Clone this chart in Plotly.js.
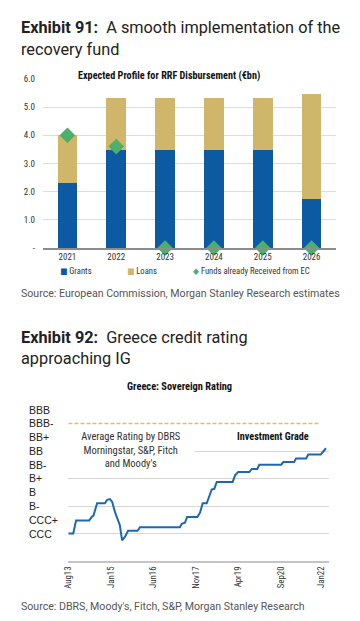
<!DOCTYPE html>
<html>
<head>
<meta charset="utf-8">
<script src="https://cdn.plot.ly/plotly-3.0.1.min.js"></script>
<style>
  html, body { margin: 0; padding: 0; background: #fff; }
  #chart { width: 360px; height: 621px; }
</style>
</head>
<body>
<div id="chart"></div>
<script>
// ---------- Exhibit 91 data ----------
const years = ['2021', '2022', '2023', '2024', '2025', '2026'];
const grants = [2.3, 3.47, 3.47, 3.47, 3.47, 1.74];
const loans = [1.7, 1.85, 1.85, 1.85, 1.85, 3.72];
const fundsReceived = [4.0, 3.6, 0, 0, 0, 0];
const rrfTickVals = [0, 1, 2, 3, 4, 5, 6];
const rrfTickText = ['-', '1.0', '2.0', '3.0', '4.0', '5.0', '6.0'];
const seriesNames = ['Grants', 'Loans', 'Funds already Received from EC'];

// ---------- Exhibit 92 data ----------
const ratingDates = [
  '2013-08-01', '2013-09-28', '2013-11-01', '2014-04-10', '2014-05-10', '2014-06-01',
  '2014-07-15', '2014-10-18', '2014-11-15', '2014-12-18', '2015-01-15', '2015-02-18',
  '2015-04-18', '2015-05-15', '2015-06-18', '2015-07-28', '2015-11-20', '2015-12-18',
  '2017-04-18', '2017-05-10', '2017-06-18', '2017-07-15', '2017-11-15', '2017-12-18',
  '2018-01-20', '2018-03-10', '2018-05-10', '2018-06-10', '2018-07-10', '2019-01-20',
  '2019-02-18', '2019-03-28', '2019-08-10', '2019-09-10', '2019-11-15', '2019-12-10',
  '2020-09-01', '2020-09-28', '2021-02-06', '2021-03-01', '2021-07-01', '2021-07-28',
  '2021-12-28', '2022-02-28'
];
const ratingValues = [
  1.0, 1.0, 1.95, 1.95, 2.2, 2.3,
  3.2, 3.2, 3.45, 3.5, 3.3, 2.55,
  1.6, 0.5, 0.75, 1.2, 1.2, 1.45,
  1.45, 1.7, 1.78, 2.2, 2.2, 2.5,
  3.2, 3.2, 4.2, 4.25, 4.75, 4.75,
  5.23, 5.47, 5.47, 5.7, 5.7, 6.0,
  6.0, 6.2, 6.2, 6.45, 6.45, 6.75,
  6.75, 7.2
];
const ratingLabels = ['CCC', 'CCC+', 'B-', 'B', 'B+', 'BB-', 'BB', 'BB+', 'BBB-', 'BBB'];
const ratingLevels = [1, 2, 3, 4, 5, 6, 7, 8, 9, 10];
const ratingGridVals = [-1, 1, 3, 5, 7, 11];
const igDates = ['2013-08-01', '2021-12-20'];
const igLevel = [9, 9];
const dateTickVals = ['2013-08-01', '2015-01-01', '2016-06-01', '2017-11-01', '2019-04-01', '2020-09-01', '2022-01-01'];
const dateTickText = ['Aug13', 'Jan15', 'Jun16', 'Nov17', 'Apr19', 'Sep20', 'Jan22'];

// ---------- styling ----------
const BLUE = '#0b5aa2';
const TAN = '#cfb66b';
const GREEN = '#4caf6a';
const LINEBLUE = '#1c68b2';
const COND = 'Roboto Condensed, Liberation Sans Narrow, DejaVu Sans Condensed, Roboto, sans-serif';
const ROBOTO = 'Roboto, Noto Sans, sans-serif';
const W = 360, H = 621;
const px = v => v / W;
const py = v => 1 - v / H;

const traces = [
  { type: 'bar', x: years, y: grants, name: seriesNames[0], marker: { color: BLUE },
    width: 0.4, xaxis: 'x', yaxis: 'y', showlegend: false, hoverinfo: 'skip' },
  { type: 'bar', x: years, y: loans, name: seriesNames[1], marker: { color: TAN },
    width: 0.4, xaxis: 'x', yaxis: 'y', showlegend: false, hoverinfo: 'skip' },
  { type: 'scatter', mode: 'markers', x: years, y: fundsReceived, name: seriesNames[2],
    marker: { symbol: 'diamond', size: 12, color: GREEN }, cliponaxis: false,
    xaxis: 'x', yaxis: 'y', showlegend: false, hoverinfo: 'skip' },
  { type: 'scatter', mode: 'lines', x: igDates, y: igLevel, name: 'Investment Grade',
    line: { color: '#d9bf73', width: 1.6, dash: '4px,2px' },
    xaxis: 'x2', yaxis: 'y2', showlegend: false, hoverinfo: 'skip' },
  { type: 'scatter', mode: 'lines', x: ratingDates, y: ratingValues, name: 'Average rating',
    line: { color: LINEBLUE, width: 2 },
    xaxis: 'x2', yaxis: 'y2', showlegend: false, hoverinfo: 'skip' }
];

const annotations = [
  // headings
  { text: '<b>Exhibit 91:</b>  A smooth implementation of the', x: px(19), y: py(28) },
  { text: 'recovery fund', x: px(19), y: py(49) },
  { text: '<b>Exhibit 92:</b>  Greece credit rating', x: px(19), y: py(337) },
  { text: 'approaching IG', x: px(19), y: py(358) }
].map(a => Object.assign({ xref: 'paper', yref: 'paper', xanchor: 'left', yanchor: 'middle',
  showarrow: false, font: { family: ROBOTO, size: 16.3, color: '#222' } }, a));

annotations.push(
  { text: 'Source: European Commission, Morgan Stanley Research estimates', x: px(19), y: py(293),
    xref: 'paper', yref: 'paper', xanchor: 'left', yanchor: 'middle', showarrow: false,
    font: { family: ROBOTO, size: 10.6, color: '#555' } },
  { text: "Source: DBRS, Moody's, Fitch, S&P, Morgan Stanley Research", x: px(19), y: py(606),
    xref: 'paper', yref: 'paper', xanchor: 'left', yanchor: 'middle', showarrow: false,
    font: { family: ROBOTO, size: 10.6, color: '#555' } },
  { text: '<b>Expected Profile for RRF Disbursement (€bn)</b>', x: px(168.5), y: py(76),
    xref: 'paper', yref: 'paper', xanchor: 'center', yanchor: 'middle', showarrow: false,
    bgcolor: '#fff', borderpad: 2, font: { family: COND, size: 10.2, color: '#111' } },
  { text: '<b>Greece: Sovereign Rating</b>', x: px(179), y: py(386),
    xref: 'paper', yref: 'paper', xanchor: 'center', yanchor: 'middle', showarrow: false,
    font: { family: COND, size: 10.4, color: '#111' } },
  { text: '<b>Investment Grade</b>', x: px(273), y: py(436),
    xref: 'paper', yref: 'paper', xanchor: 'center', yanchor: 'middle', showarrow: false,
    font: { family: COND, size: 10.2, color: '#111' } },
  { text: "Average Rating by DBRS<br>Morningstar, S&P, Fitch<br>and Moody's", x: px(130.5), y: py(450),
    xref: 'paper', yref: 'paper', xanchor: 'center', yanchor: 'middle', showarrow: false,
    width: 124, align: 'center', bgcolor: '#fff',
    font: { family: COND, size: 10.5, color: '#333' } }
);

// legend built from series names
const legendColors = [BLUE, TAN, GREEN];
const legendGlyphs = ['■', '■', '◆'];
const legendX = [58, 125, 191];
seriesNames.forEach((n, i) => annotations.push({
  text: '<span style="color:' + legendColors[i] + '">' + legendGlyphs[i] + '</span> ' + n,
  x: px(legendX[i]), y: py(271), xref: 'paper', yref: 'paper', xanchor: 'left', yanchor: 'middle',
  showarrow: false, font: { family: COND, size: 8.6, color: '#333' }
}));

// rating labels placed on the rating scale
ratingLabels.forEach((lab, i) => annotations.push({
  text: lab, x: px(27), y: ratingLevels[i], xref: 'paper', yref: 'y2',
  xanchor: 'left', yanchor: 'middle', showarrow: false,
  font: { family: 'Liberation Sans, Arial, sans-serif', size: 10.5, color: '#222' }
}));

const layout = {
  width: W, height: H,
  margin: { l: 0, r: 0, t: 0, b: 0 },
  paper_bgcolor: '#fff', plot_bgcolor: '#fff',
  barmode: 'stack',
  showlegend: false,
  xaxis: {
    domain: [px(43), px(336)], anchor: 'y', type: 'category',
    showline: true, linecolor: '#8c8c8c', linewidth: 1.5,
    showgrid: false, zeroline: false, ticks: '',
    tickfont: { family: COND, size: 9, color: '#333' }
  },
  yaxis: {
    domain: [1 - 248 / H, 1 - 79 / H], anchor: 'x', range: [0, 6],
    tickvals: rrfTickVals, ticktext: rrfTickText,
    showgrid: true, gridcolor: '#dcdcdc', gridwidth: 1, zeroline: false,
    showline: false, ticks: '', ticklabelstandoff: 7,
    tickfont: { family: COND, size: 9, color: '#333' }
  },
  xaxis2: {
    domain: [px(68), px(329)], anchor: 'y2', type: 'date',
    range: ['2013-07-26', '2022-04-06'],
    tickvals: dateTickVals, ticktext: dateTickText, tickangle: -90,
    showline: true, linecolor: '#c4c4c4', linewidth: 2,
    showgrid: false, zeroline: false, ticks: '',
    tickfont: { family: COND, size: 8.8, color: '#333' }
  },
  yaxis2: {
    domain: [1 - 561 / H, 1 - 396 / H], anchor: 'x2', range: [-1, 11],
    tickvals: ratingGridVals, showticklabels: false,
    showgrid: true, gridcolor: '#d6d6d6', gridwidth: 1, zeroline: false,
    showline: false, ticks: ''
  },
  annotations: annotations
};

Plotly.newPlot('chart', traces, layout, { staticPlot: true, displayModeBar: false });
</script>
</body>
</html>
